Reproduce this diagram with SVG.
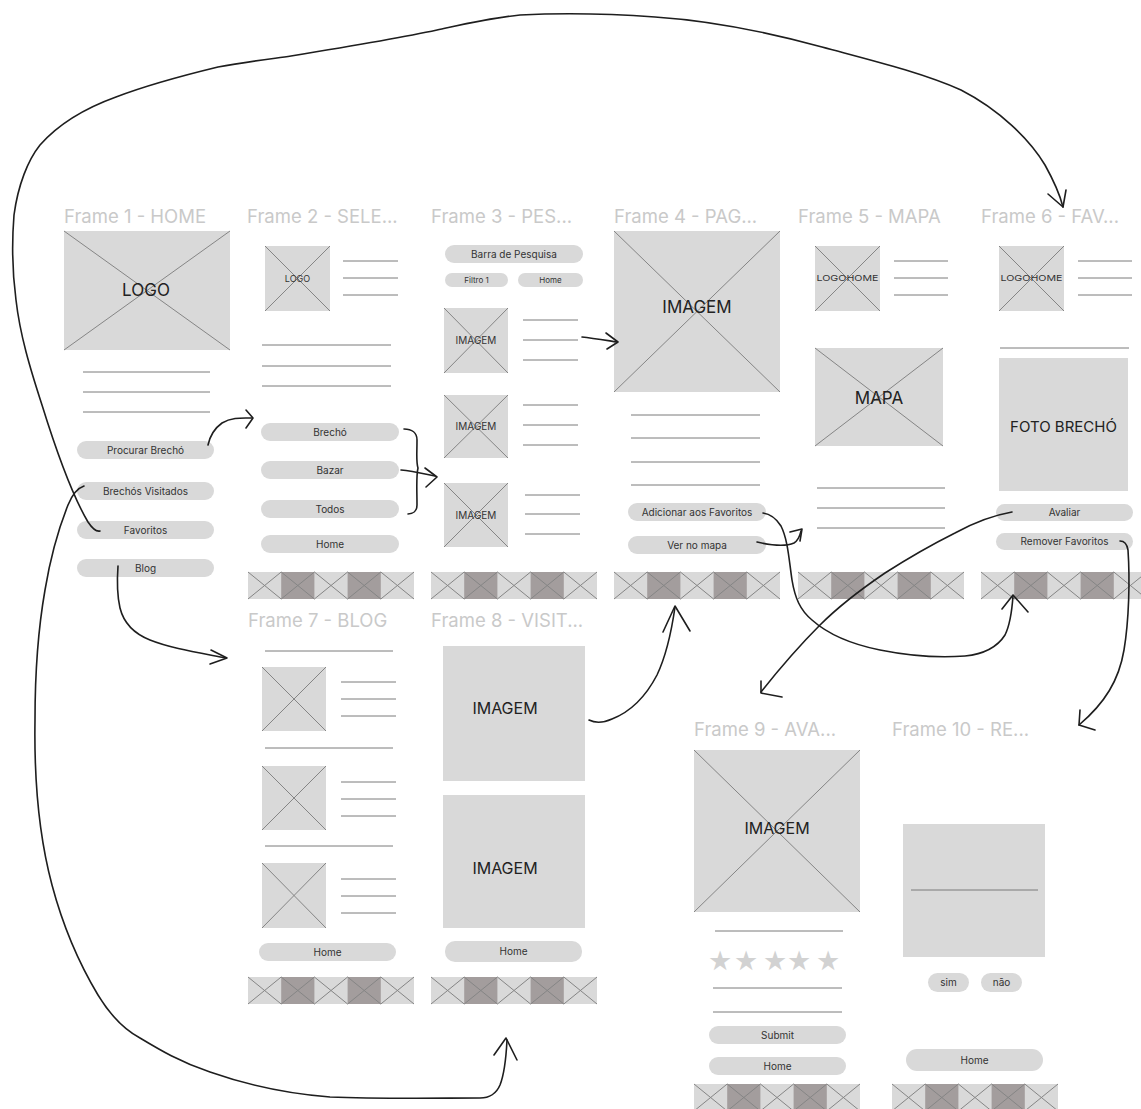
<svg xmlns="http://www.w3.org/2000/svg" width="1141" height="1109" viewBox="0 0 1141 1109">
<style>
.title{font-family:Inter,"Liberation Sans",sans-serif;font-size:18.5px;fill:#c9c9c9}
.ph{fill:#d9d9d9}
.x{stroke:#858585;stroke-width:1;fill:none}
.ln{stroke:#7a7a7a;stroke-width:1;fill:none}
.pill{fill:#d9d9d9}
.bt{font-family:Inter,"Liberation Sans",sans-serif;font-size:10px;fill:#333;text-anchor:middle}
.sm{font-family:Inter,"Liberation Sans",sans-serif;font-size:8px;fill:#333;text-anchor:middle}
.big{font-family:Inter,"Liberation Sans",sans-serif;font-size:17px;fill:#222;text-anchor:middle}
.mid{font-family:Inter,"Liberation Sans",sans-serif;font-size:10px;fill:#333;text-anchor:middle}
.star{font-family:"DejaVu Sans",sans-serif;font-size:27px;fill:#d2d2d2;text-anchor:middle}
.con{stroke:#1e1e1e;stroke-width:1.6;fill:none;stroke-linecap:round;stroke-linejoin:round}
</style>
<defs>
<g id="nav">
<rect x="0" y="0" width="166" height="27" fill="#d9d9d9"/>
<rect x="33.2" y="0" width="33.2" height="27" fill="#a39d9d"/>
<rect x="99.6" y="0" width="33.2" height="27" fill="#a39d9d"/>
<path class="x" d="M0 0L33.2 27M33.2 0L0 27M33.2 0L66.4 27M66.4 0L33.2 27M66.4 0L99.6 27M99.6 0L66.4 27M99.6 0L132.8 27M132.8 0L99.6 27M132.8 0L166 27M166 0L132.8 27"/>
</g>
</defs>
<rect width="1141" height="1109" fill="#ffffff"/>

<g id="frame1">
<text class="title" x="64" y="223">Frame 1 - HOME</text>
<rect class="ph" x="64" y="231" width="166" height="119"/>
<path class="x" d="M64 231L230 350M230 231L64 350"/>
<text class="big" x="146" y="296">LOGO</text>
<path class="ln" d="M83 372H210M83 392H210M83 412H210"/>
<rect class="pill" x="77" y="441" width="137" height="18" rx="9"/>
<text class="bt" x="145.5" y="453.5">Procurar Brechó</text>
<rect class="pill" x="77" y="482" width="137" height="18" rx="9"/>
<text class="bt" x="145.5" y="494.5">Brechós Visitados</text>
<rect class="pill" x="77" y="521" width="137" height="18" rx="9"/>
<text class="bt" x="145.5" y="533.5">Favoritos</text>
<rect class="pill" x="77" y="559" width="137" height="18" rx="9"/>
<text class="bt" x="145.5" y="571.5">Blog</text>
</g>

<g id="frame2">
<text class="title" x="247" y="223">Frame 2 - SELE...</text>
<rect class="ph" x="265" y="246" width="65" height="65"/>
<path class="x" d="M265 246L330 311M330 246L265 311"/>
<text class="mid" x="297.5" y="282" style="font-size:9px">LOGO</text>
<path class="ln" d="M343 261H398M343 278H398M343 295H398"/>
<path class="ln" d="M262 345H391M262 366H391M262 386H391"/>
<rect class="pill" x="261" y="423" width="138" height="18" rx="9"/>
<text class="bt" x="330" y="435.5">Brechó</text>
<rect class="pill" x="261" y="461" width="138" height="18" rx="9"/>
<text class="bt" x="330" y="473.5">Bazar</text>
<rect class="pill" x="261" y="500" width="138" height="18" rx="9"/>
<text class="bt" x="330" y="512.5">Todos</text>
<rect class="pill" x="261" y="535" width="138" height="18" rx="9"/>
<text class="bt" x="330" y="547.5">Home</text>
<use href="#nav" x="248" y="572"/>
</g>

<g id="frame3">
<text class="title" x="431" y="223">Frame 3 - PES...</text>
<rect class="pill" x="445" y="245" width="138" height="18" rx="9"/>
<text class="bt" x="514" y="257.5">Barra de Pesquisa</text>
<rect class="pill" x="445" y="273" width="63" height="14" rx="7"/>
<text class="sm" x="476.5" y="283">Filtro 1</text>
<rect class="pill" x="518" y="273" width="65" height="14" rx="7"/>
<text class="sm" x="550.5" y="283">Home</text>
<rect class="ph" x="444" y="308" width="64" height="65"/>
<path class="x" d="M444 308L508 373M508 308L444 373"/>
<text class="mid" x="476" y="344">IMAGEM</text>
<path class="ln" d="M523 320H578M523 340H578M523 360H578"/>
<rect class="ph" x="444" y="395" width="64" height="63"/>
<path class="x" d="M444 395L508 458M508 395L444 458"/>
<text class="mid" x="476" y="430">IMAGEM</text>
<path class="ln" d="M523 405H578M523 425H578M523 445H578"/>
<rect class="ph" x="444" y="483" width="64" height="64"/>
<path class="x" d="M444 483L508 547M508 483L444 547"/>
<text class="mid" x="476" y="519">IMAGEM</text>
<path class="ln" d="M525 495H580M525 514H580M525 534H580"/>
<use href="#nav" x="431" y="572"/>
</g>

<g id="frame4">
<text class="title" x="614" y="223">Frame 4 - PAG...</text>
<rect class="ph" x="614" y="231" width="166" height="161"/>
<path class="x" d="M614 231L780 392M780 231L614 392"/>
<text class="big" x="697" y="313">IMAGEM</text>
<path class="ln" d="M631 415H760M631 438H760M631 462H760M631 485H760"/>
<rect class="pill" x="628" y="503" width="138" height="18" rx="9"/>
<text class="bt" x="697" y="515.5">Adicionar aos Favoritos</text>
<rect class="pill" x="628" y="536" width="138" height="18" rx="9"/>
<text class="bt" x="697" y="548.5">Ver no mapa</text>
<use href="#nav" x="614" y="572"/>
</g>

<g id="frame5">
<text class="title" x="798" y="223">Frame 5 - MAPA</text>
<rect class="ph" x="815" y="246" width="65" height="65"/>
<path class="x" d="M815 246L880 311M880 246L815 311"/>
<text class="sm" x="847.5" y="281" textLength="62" lengthAdjust="spacingAndGlyphs">LOGOHOME</text>
<path class="ln" d="M894 261H948M894 278H948M894 295H948"/>
<rect class="ph" x="815" y="348" width="128" height="98"/>
<path class="x" d="M815 348L943 446M943 348L815 446"/>
<text class="big" x="879" y="404">MAPA</text>
<path class="ln" d="M817 488H945M817 508H945M817 528H945"/>
<use href="#nav" x="798" y="572"/>
</g>

<g id="frame6">
<text class="title" x="981" y="223">Frame 6 - FAV...</text>
<rect class="ph" x="999" y="246" width="65" height="65"/>
<path class="x" d="M999 246L1064 311M1064 246L999 311"/>
<text class="sm" x="1031.5" y="281" textLength="62" lengthAdjust="spacingAndGlyphs">LOGOHOME</text>
<path class="ln" d="M1078 261H1132M1078 278H1132M1078 295H1132"/>
<path class="ln" d="M1000 348H1129"/>
<rect class="ph" x="999" y="358" width="129" height="133"/>
<text class="big" x="1063.5" y="432" style="font-size:15px">FOTO BRECHÓ</text>
<rect class="pill" x="996" y="504" width="137" height="17" rx="8.5"/>
<text class="bt" x="1064.5" y="516">Avaliar</text>
<rect class="pill" x="996" y="533" width="137" height="17" rx="8.5"/>
<text class="bt" x="1064.5" y="545">Remover Favoritos</text>
<use href="#nav" x="981" y="572"/>
</g>

<g id="frame7">
<text class="title" x="248" y="627">Frame 7 - BLOG</text>
<path class="ln" d="M265 651H393"/>
<rect class="ph" x="262" y="667" width="64" height="64"/>
<path class="x" d="M262 667L326 731M326 667L262 731"/>
<path class="ln" d="M341 682H396M341 699H396M341 716H396"/>
<path class="ln" d="M265 748H393"/>
<rect class="ph" x="262" y="766" width="64" height="64"/>
<path class="x" d="M262 766L326 830M326 766L262 830"/>
<path class="ln" d="M341 782H396M341 799H396M341 816H396"/>
<path class="ln" d="M265 846H393"/>
<rect class="ph" x="262" y="863" width="64" height="65"/>
<path class="x" d="M262 863L326 928M326 863L262 928"/>
<path class="ln" d="M341 879H396M341 896H396M341 913H396"/>
<rect class="pill" x="259" y="943" width="137" height="18" rx="9"/>
<text class="bt" x="327.5" y="955.5">Home</text>
<use href="#nav" x="248" y="977"/>
</g>

<g id="frame8">
<text class="title" x="431" y="627">Frame 8 - VISIT...</text>
<rect class="ph" x="443" y="646" width="142" height="135"/>
<text class="big" x="505" y="714" style="font-size:16px">IMAGEM</text>
<rect class="ph" x="443" y="795" width="142" height="133"/>
<text class="big" x="505" y="874" style="font-size:16px">IMAGEM</text>
<rect class="pill" x="445" y="941" width="137" height="21" rx="10"/>
<text class="bt" x="513.5" y="955">Home</text>
<use href="#nav" x="431" y="977"/>
</g>

<g id="frame9">
<text class="title" x="694" y="736">Frame 9 - AVA...</text>
<rect class="ph" x="694" y="750" width="166" height="162"/>
<path class="x" d="M694 750L860 912M860 750L694 912"/>
<text class="big" x="777" y="834" style="font-size:16px">IMAGEM</text>
<path class="ln" d="M715 931H843"/>
<text class="star" x="720" y="970">★</text>
<text class="star" x="746" y="970">★</text>
<text class="star" x="775" y="970">★</text>
<text class="star" x="799" y="970">★</text>
<text class="star" x="828" y="970">★</text>
<path class="ln" d="M713 988H842M713 1012H842"/>
<rect class="pill" x="709" y="1026" width="137" height="18" rx="9"/>
<text class="bt" x="777.5" y="1038.5">Submit</text>
<rect class="pill" x="709" y="1057" width="137" height="18" rx="9"/>
<text class="bt" x="777.5" y="1069.5">Home</text>
<use href="#nav" x="694" y="1084"/>
</g>

<g id="frame10">
<text class="title" x="892" y="736">Frame 10 - RE...</text>
<rect class="ph" x="903" y="824" width="142" height="133"/>
<path class="ln" d="M911 890H1038"/>
<rect class="pill" x="928" y="973" width="41" height="19" rx="9.5"/>
<text class="bt" x="948.5" y="986">sim</text>
<rect class="pill" x="981" y="973" width="41" height="19" rx="9.5"/>
<text class="bt" x="1001.5" y="986">não</text>
<rect class="pill" x="906" y="1049" width="137" height="22" rx="11"/>
<text class="bt" x="974.5" y="1064">Home</text>
<use href="#nav" x="892" y="1084"/>
</g>

<g id="connectors">
<!-- Favoritos -> Frame 6 (big top arc) -->
<path class="con" d="M100 531C96 532 92 528 88 522C72 495 56 450 42 405C30 368 20 335 16 300C12 270 12 240 14 215C18 185 28 160 40 145C55 128 80 110 116 97C150 84 185 75 218 67C245 62 270 59 291 56C340 48 400 38 437 30C465 24 490 18 520 15C560 13 600 13 655 17C700 20 760 30 822 47C870 60 920 72 961 90C1000 110 1030 140 1045 165C1055 183 1060 195 1063 207"/>
<path class="con" d="M1048 194L1063 207L1066 190"/>
<!-- Brechós Visitados -> Frame 8 bottom -->
<path class="con" d="M84 486C78 488 72 495 68 505C58 530 50 560 45 590C38 630 35 680 35 720C34 780 40 840 52 885C64 930 80 965 98 995C112 1018 125 1030 140 1038C160 1050 180 1062 210 1072C250 1086 290 1094 330 1097C380 1099 440 1098 480 1098C492 1098 497 1092 500 1085C504 1075 506 1060 507 1040"/>
<path class="con" d="M494 1055L506 1038L517 1060"/>
<!-- Blog -> Frame 7 -->
<path class="con" d="M118 566C117 580 117 595 120 608C124 624 135 634 150 640C170 648 195 652 226 658"/>
<path class="con" d="M211 650L227 658L210 664"/>
<!-- Procurar Brechó -> Frame 2 -->
<path class="con" d="M208 445C210 436 215 428 222 423C232 417 242 418 252 418"/>
<path class="con" d="M246 410L253 418L246 428"/>
<!-- bracket Frame 2 -->
<path class="con" d="M404 429C412 429 417 433 417 440C417 455 416 462 418 468C416 476 417 490 417 505C417 511 413 514 408 514"/>
<path class="con" d="M401 470C412 471 425 474 435 476"/>
<path class="con" d="M425 468L437 477L426 487"/>
<!-- Frame 3 -> Frame 4 -->
<path class="con" d="M582 337C592 338 604 340 617 342"/>
<path class="con" d="M606 333L618 342L607 349"/>
<!-- Adicionar aos Favoritos -> Frame 6 nav -->
<path class="con" d="M763 513C770 514 776 518 781 526C788 540 789 560 792 580C795 598 800 610 812 620C830 636 855 645 880 650C910 656 940 658 965 656C985 654 998 646 1005 635C1010 625 1012 610 1013 596"/>
<path class="con" d="M1002 609L1013 595L1028 612"/>
<!-- Ver no mapa -> Frame 5 -->
<path class="con" d="M757 542C770 545 785 547 794 543C799 540 800 535 801 531"/>
<path class="con" d="M790 532L802 529L800 541"/>
<!-- Avaliar -> Frame 9 -->
<path class="con" d="M1012 512C995 515 975 522 955 533C935 543 910 557 885 573C860 590 840 605 820 625C800 645 780 668 761 692"/>
<path class="con" d="M761 681L761 693L782 697"/>
<!-- Remover Favoritos -> Frame 10 -->
<path class="con" d="M1120 541C1124 541 1127 544 1128 550C1130 580 1129 620 1124 650C1119 680 1105 703 1079 725"/>
<path class="con" d="M1080 710L1079 725L1095 730"/>
<!-- Frame 8 -> Frame 4 nav -->
<path class="con" d="M589 720C595 723 603 723 612 719C630 712 645 698 657 675C666 656 671 635 675 607"/>
<path class="con" d="M663 632L675 606L690 631"/>
</g>
</svg>
